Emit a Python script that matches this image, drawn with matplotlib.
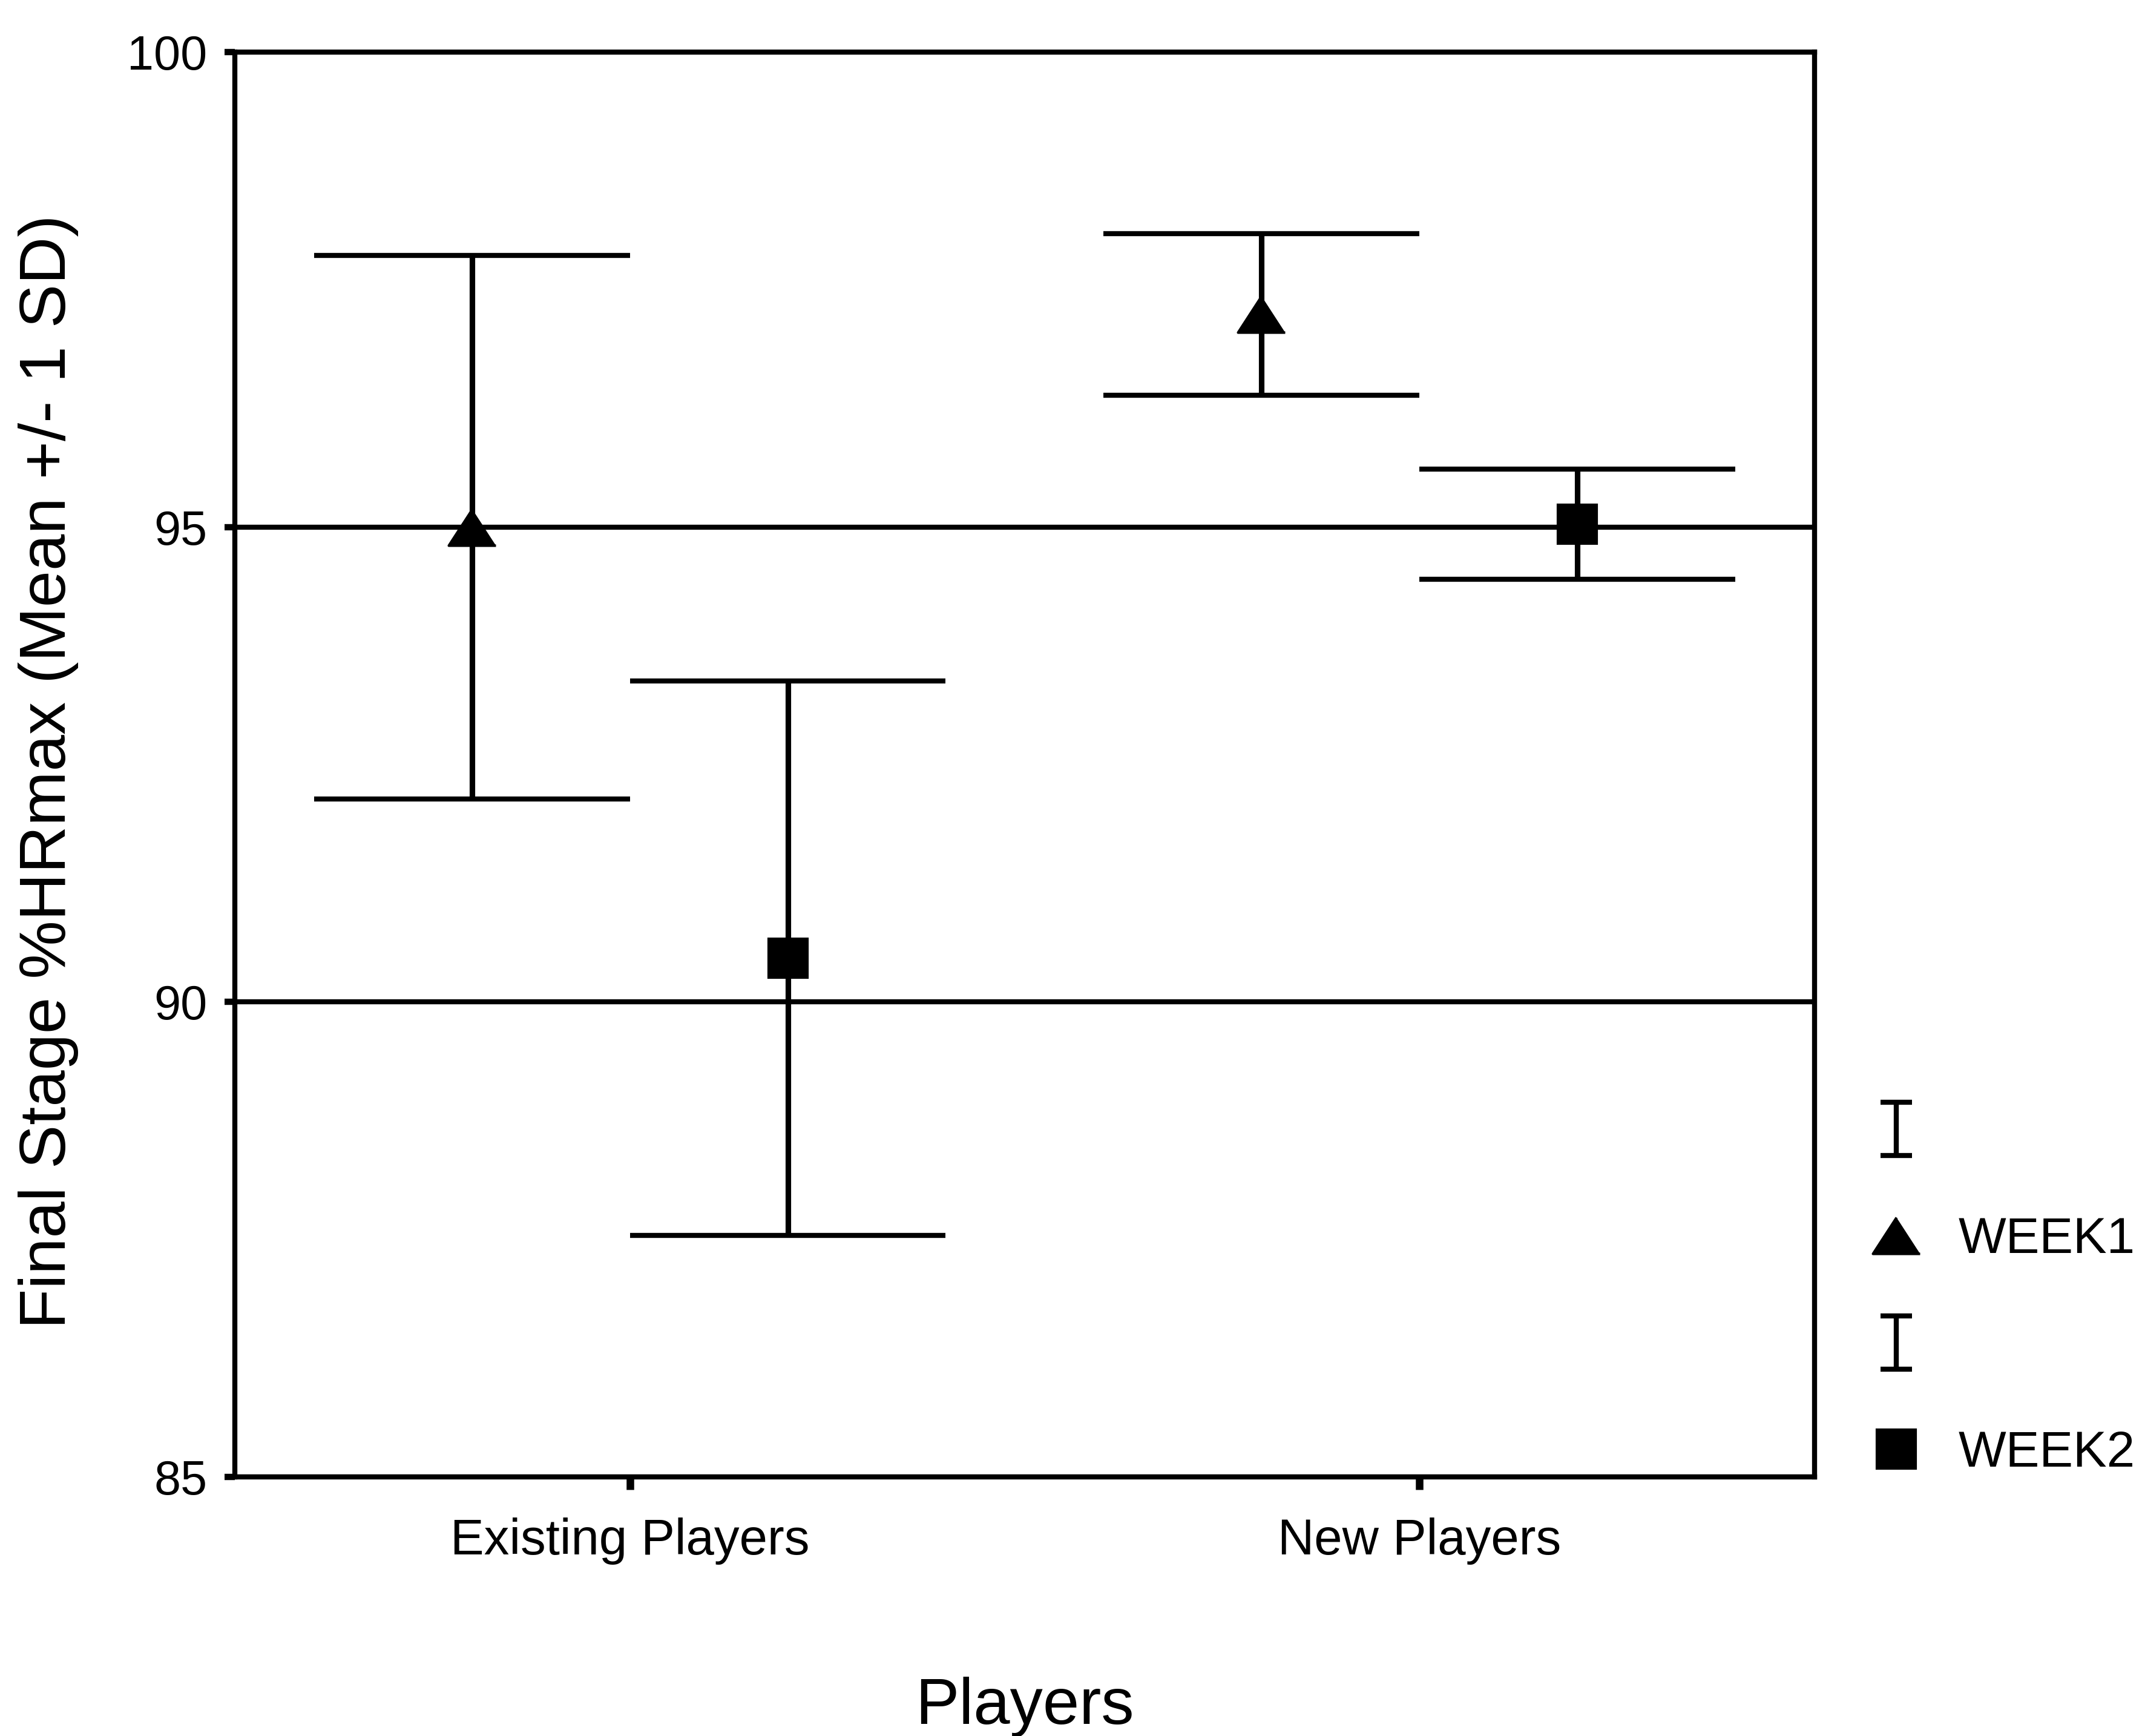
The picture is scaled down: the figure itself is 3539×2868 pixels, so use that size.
import numpy as np
import matplotlib.pyplot as plt
from matplotlib.path import Path
from matplotlib.lines import Line2D

groups = ['Existing Players', 'New Players']
week1_mean = np.array([95.0, 97.24])
week1_sd = np.array([2.86, 0.85])
week2_mean = np.array([90.46, 95.03])
week2_sd = np.array([2.92, 0.58])

plt.rcParams['font.family'] = ['Liberation Sans', 'DejaVu Sans']

fig = plt.figure(figsize=(11.797, 9.56), dpi=300)
ax = fig.add_axes([0.1097, 0.1492, 0.7373, 0.8208])

x = np.arange(len(groups)) + 1
off = 0.2   # week offset from category centre
half = 0.2  # half width of the caps

# slightly flattened triangle, like the original
tri = [(0, 0.77), (-1, -0.77), (1, -0.77)]

series = [(x - off, week1_mean, week1_sd, tri, 18.7),
          (x + off, week2_mean, week2_sd, 's', 15.5)]
for xs, m, s, mk, ms in series:
    ax.vlines(xs, m - s, m + s, color='k', lw=2.2)
    ax.hlines(m + s, xs - half, xs + half, color='k', lw=2)
    ax.hlines(m - s, xs - half, xs + half, color='k', lw=2)
    ax.plot(xs, m, ls='none', marker=mk, ms=ms, color='k', zorder=3)

ax.set_xlim(0.5, 2.5)
ax.set_ylim(85, 100)
ax.set_xticks(x, groups)
ax.set_yticks([85, 90, 95, 100])
ax.grid(axis='y', color='k', lw=2)
for sp in ax.spines.values():
    sp.set_linewidth(2)
ax.tick_params(axis='y', length=4, width=2.5, pad=7, labelsize=19)
ax.tick_params(axis='x', length=5, width=3, pad=11, labelsize=20)

ax.set_ylabel('Final Stage %HRmax (Mean +/- 1 SD)', fontsize=26)
ax.yaxis.set_label_coords(-0.099, 0.495)
ax.set_xlabel('Players', fontsize=26)
ax.xaxis.set_label_coords(0.5, -0.14)

# legend: error bar glyph, then marker + label
ibeam = Path([(-0.6, 1), (0.6, 1), (0, 1), (0, -1), (-0.6, -1), (0.6, -1)],
             [Path.MOVETO, Path.LINETO, Path.MOVETO, Path.LINETO, Path.MOVETO, Path.LINETO])
eb = Line2D([], [], ls='none', marker=ibeam, ms=21, mec='k', mew=2, fillstyle='none')
h1 = Line2D([], [], ls='none', marker=tri, ms=18.7, color='k')
h2 = Line2D([], [], ls='none', marker='s', ms=15.5, color='k')
fig.legend([eb, h1, eb, h2], ['', 'WEEK1', '', 'WEEK2'], loc='center left',
           bbox_to_anchor=(0.8735, 0.255), frameon=False, fontsize=20,
           handlelength=1.0, handletextpad=0.73, labelspacing=1.18,
           borderpad=0, borderaxespad=0)

fig.savefig('out.png', dpi=300)
